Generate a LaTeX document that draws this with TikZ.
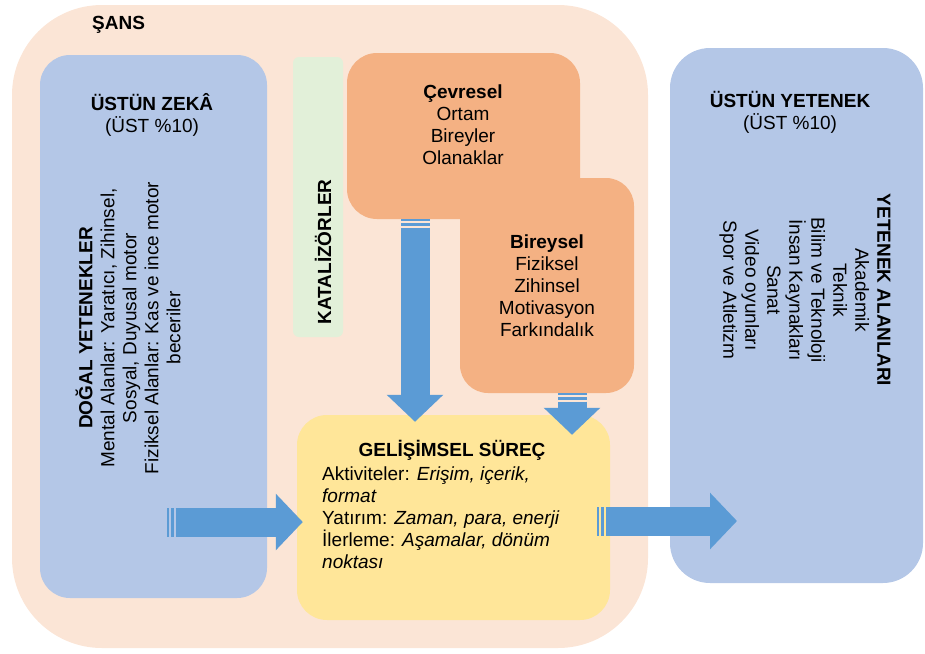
\documentclass[tikz,border=0pt]{standalone}
\usepackage{fontspec}
\setmainfont{Liberation Sans}
\usepackage{tikz}
\usetikzlibrary{arrows.meta}

\definecolor{sanspeach}{HTML}{FBE5D6}
\definecolor{zekablue}{HTML}{B4C7E7}
\definecolor{katgreen}{HTML}{E2F0D9}
\definecolor{cevreorange}{HTML}{F4B183}
\definecolor{surecyellow}{HTML}{FFE699}
\definecolor{okblue}{HTML}{5B9BD5}

\tikzset{
  panel/.style={rectangle, rounded corners=#1, inner sep=0pt},
  lbl/.style={font=\fontsize{19}{22}\selectfont, align=center, inner sep=0pt},
  blockarrow/.style={draw=okblue, line width=29pt, -{Triangle[length=27pt,width=55pt]},
    dash pattern=on 2pt off 2pt on 2.5pt off 2pt on 2000pt}
}

\begin{document}
\begin{tikzpicture}[x=1pt,y=-1pt]
\useasboundingbox (0,0) rectangle (925,653);

\node[panel=90pt, fill=sanspeach, minimum width=636pt, minimum height=643pt] (sans) at (330,326.5) {};
\node[panel=30pt, fill=zekablue, minimum width=227pt, minimum height=543pt] (zeka) at (153.5,326.5) {};
\node[panel=40pt, fill=zekablue, minimum width=253pt, minimum height=535pt] (yetenek) at (796.5,315.5) {};
\node[panel=6pt, fill=katgreen, minimum width=50pt, minimum height=280pt] (kataliz) at (318,197) {};
\node[panel=30pt, fill=cevreorange, minimum width=233pt, minimum height=166pt] (cevre) at (463.5,136) {};
\node[panel=28pt, fill=cevreorange, minimum width=174pt, minimum height=215pt] (birey) at (547,285.5) {};
\node[panel=30pt, fill=surecyellow, minimum width=313pt, minimum height=205pt] (surec) at (453.5,517.5) {};

\coordinate (zekaout) at (167,522);
\coordinate (surecout) at (597,521);
\coordinate (cevreout) at (415,219);
\coordinate (bireyout) at (572,393);
\coordinate (yetenekin) at (737,521);

\draw[blockarrow] (zekaout) -- ([xshift=6pt]zekaout -| surec.west);
\draw[blockarrow] (surecout) -- (yetenekin);
\draw[blockarrow] (cevreout) -- ([yshift=-7pt]cevreout |- surec.north);
\draw[blockarrow] (bireyout) -- ([yshift=-20pt]bireyout |- surec.north);

\node[lbl, anchor=west] (sanslbl) at (92,25) {\textbf{ŞANS}};
\node[lbl] (zekalbl) at (152,115) {\textbf{ÜSTÜN ZEKÂ}\\(ÜST \%10)};
\node[lbl, rotate=90] (dogal) at (128,328) {\textbf{DOĞAL YETENEKLER}\\Mental Alanlar: Yaratıcı, Zihinsel,\\Sosyal, Duyusal motor\\Fiziksel Alanlar: Kas ve ince motor\\beceriler};
\node[lbl, rotate=90] (katlbl) at (323,252) {\textbf{KATALİZÖRLER}};
\node[lbl] (cevrelbl) at (463,125) {\textbf{Çevresel}\\Ortam\\Bireyler\\Olanaklar};
\node[lbl] (bireylbl) at (547,286) {\textbf{Bireysel}\\Fiziksel\\Zihinsel\\Motivasyon\\Farkındalık};
\node[lbl] (sureclbl) at (452,450) {\textbf{GELİŞİMSEL SÜREÇ}};
\node[lbl, align=left, anchor=north west] (surecbody) at (322,467) {Aktiviteler: \textit{Erişim, içerik,}\\\textit{format}\\Yatırım: \textit{Zaman, para, enerji}\\İlerleme: \textit{Aşamalar, dönüm}\\\textit{noktası}};
\node[lbl] (yetenlbl) at (790,112) {\textbf{ÜSTÜN YETENEK}\\(ÜST \%10)};
\node[lbl, rotate=-90] (alanlar) at (805,290) {\textbf{YETENEK ALANLARI}\\Akademik\\Teknik\\Bilim ve Teknoloji\\İnsan Kaynakları\\Sanat\\Video oyunları\\Spor ve Atletizm};
\end{tikzpicture}
\end{document}
